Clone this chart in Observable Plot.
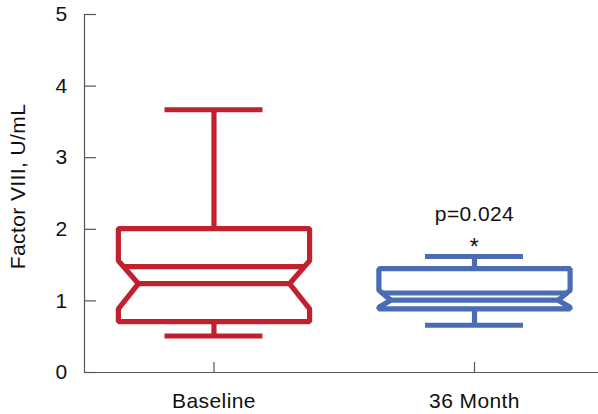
<!DOCTYPE html>
<html><head><meta charset="utf-8">
<script src="https://cdn.jsdelivr.net/npm/d3@7"></script>
<script src="https://cdn.jsdelivr.net/npm/@observablehq/plot@0.6"></script>
<style>body{margin:0;background:#fff} svg text{letter-spacing:0.4px}</style>
</head><body><div id="chart"></div>
<script>
// ---- data ----
const groups = ["Baseline", "36 Month"];
const whiskerHigh = [3.67, 1.62];
const q3 = [2.01, 1.45];
const notchHigh = [1.56, 1.15];
const means = [1.48, 1.11];
const medians = [1.24, 1.01];
const notchLow = [0.89, 0.91];
const q1 = [0.71, 0.89];
const whiskerLow = [0.51, 0.66];
const yTicks = [0, 1, 2, 3, 4, 5];
const stars = ["", "*"];
const pValues = ["", "p=0.024"];
const yTitle = "Factor VIII, U/mL";

// ---- styles ----
const colors = ["#C1202F", "#4A6CB4"];
const boxHalf = 0.367, capHalf = 0.188;
const notchInset = [0.077, 0.046];
const xDomain = [-0.497, 1.476];
const axisColor = "#555";
const fs = 21;
const sw = 5.2;

const rows = groups.map((g, i) => ({
  g, i, wh: whiskerHigh[i], q3: q3[i], nh: notchHigh[i], mean: means[i],
  med: medians[i], nl: notchLow[i], q1: q1[i], wl: whiskerLow[i],
  ins: notchInset[i], star: stars[i], p: pValues[i]
}));

const poly = rows.flatMap(r => {
  const w = boxHalf, c = r.i, k = r.ins;
  return [
    [c - w, r.q3], [c + w, r.q3], [c + w, r.nh], [c + w - k, r.med], [c + w, r.nl],
    [c + w, r.q1], [c - w, r.q1], [c - w, r.nl], [c - w + k, r.med], [c - w, r.nh]
  ].map(([x, y]) => ({g: r.g, x, y}));
});

function meanHalf(r) {
  const w = boxHalf, k = r.ins;
  if (r.mean >= r.nh || r.mean <= r.nl) return w;
  const t = r.mean >= r.med ? (r.mean - r.med) / (r.nh - r.med) : (r.med - r.mean) / (r.med - r.nl);
  return (w - k) + k * t;
}

const chart = Plot.plot({
  width: 598, height: 414,
  marginLeft: 84, marginRight: 0, marginTop: 14, marginBottom: 42,
  style: {fontFamily: "'Liberation Sans', Arial, sans-serif", fontSize: fs + "px", background: "#fff", color: "#111"},
  x: {type: "linear", domain: xDomain, label: null},
  y: {domain: [0, 5], label: null},
  color: {domain: groups, range: colors},
  marks: [
    Plot.ruleY([0], {stroke: axisColor, strokeWidth: 1.2}),
    Plot.ruleX([xDomain[0]], {y1: 0, y2: 5, stroke: axisColor, strokeWidth: 1.2}),
    Plot.axisY({ticks: yTicks, tickSize: 12, dx: 12, fill: "none", stroke: axisColor, strokeWidth: 1.2, label: null}),
    Plot.axisY({ticks: yTicks, tickSize: 0, tickPadding: 17, tickFormat: d => d, fontSize: fs, label: null}),
    Plot.axisX({ticks: [0, 1], tickSize: 10, dy: -10, fill: "none", stroke: axisColor, strokeWidth: 1.2, label: null}),
    Plot.axisX({ticks: [0, 1], tickSize: 0, tickPadding: 21, tickFormat: i => groups[i], fontSize: fs, label: null}),
    Plot.text([yTitle], {frameAnchor: "left", dx: -66, dy: -7, rotate: -90, fontSize: fs, textAnchor: "middle", lineAnchor: "middle"}),
    // whiskers
    Plot.ruleX(rows, {x: "i", y1: "q3", y2: "wh", stroke: "g", strokeWidth: sw}),
    Plot.ruleX(rows, {x: "i", y1: "q1", y2: "wl", stroke: "g", strokeWidth: sw}),
    Plot.ruleY(rows, {y: "wh", x1: d => d.i - capHalf, x2: d => d.i + capHalf, stroke: "g", strokeWidth: sw}),
    Plot.ruleY(rows, {y: "wl", x1: d => d.i - capHalf, x2: d => d.i + capHalf, stroke: "g", strokeWidth: sw}),
    // notched box
    Plot.line(poly, {x: "x", y: "y", z: "g", stroke: "g", curve: "linear-closed", strokeWidth: sw, strokeLinejoin: "miter"}),
    Plot.ruleY(rows, {y: "med", x1: d => d.i - boxHalf + d.ins, x2: d => d.i + boxHalf - d.ins, stroke: "g", strokeWidth: sw}),
    Plot.ruleY(rows, {y: "mean", x1: d => d.i - meanHalf(d), x2: d => d.i + meanHalf(d), stroke: "g", strokeWidth: sw}),
    // annotations
    Plot.text(rows.filter(d => d.p), {x: "i", y: "wh", text: "p", dy: -42, fontSize: fs, lineAnchor: "middle"}),
    Plot.text(rows.filter(d => d.star), {x: "i", y: "wh", text: "star", dy: -9, fontSize: 23, lineAnchor: "middle"})
  ]
});
document.getElementById("chart").appendChild(chart);
</script>
</body></html>
